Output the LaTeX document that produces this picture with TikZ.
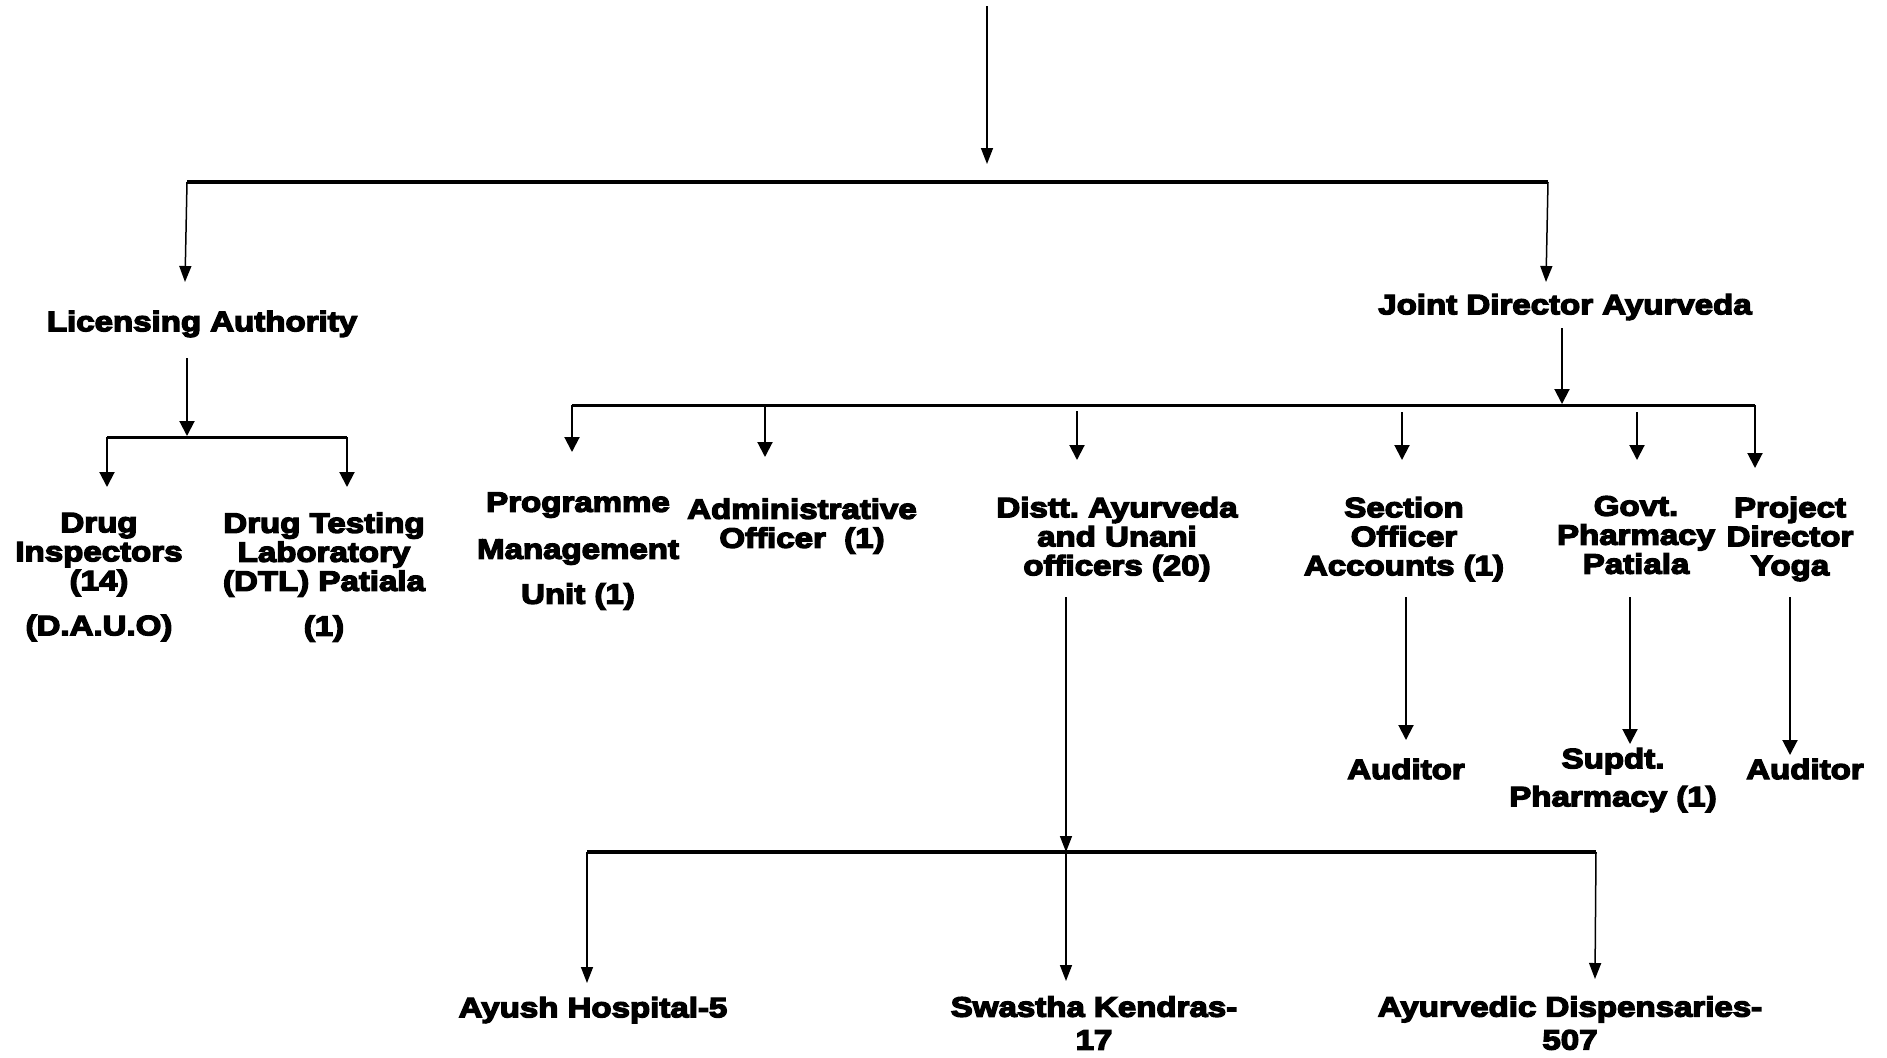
\documentclass[tikz,border=0pt]{standalone}
\usepackage{fontspec}
\newfontfamily\lab{Liberation Sans}[UprightFont={* Bold},FakeStretch=1.18]
\usetikzlibrary{arrows.meta}
\tikzset{
  lbl/.style={font=\lab\frenchspacing\fontsize{14}{14.5}\selectfont, align=center, inner sep=0pt, anchor=center,
    execute at begin node={\special{pdf:literal direct 2 Tr 0.7 w}},
    execute at end node={\special{pdf:literal direct 0 Tr}}},
  thin/.style={line width=0.75pt, -{Triangle[length=8pt,width=6pt]}},
  med/.style={line width=1pt, -{Triangle[length=7.5pt,width=7.5pt]}},
  topbar/.style={line width=2pt},
  midbar/.style={line width=1.5pt},
}
\begin{document}
\begin{tikzpicture}[x=0.5pt,y=-0.5pt]
\useasboundingbox[fill=white] (0,0) rectangle (1887,1057);

% text nodes
\node[lbl] (la) at (202,324) {Licensing Authority};
\node[lbl] (jd) at (1565,307) {Joint Director Ayurveda};
\node[lbl] (di) at (99,577) {Drug\\Inspectors\\(14)\\[8pt](D.A.U.O)};
\node[lbl] (dtl) at (324,577) {Drug Testing\\Laboratory\\(DTL) Patiala\\[8pt](1)};
\node[lbl] (pmu) at (578,551) {Programme\\[9pt]Management\\[8pt]Unit (1)};
\node[lbl] (ao) at (802,526) {Administrative\\Officer\ \ (1)};
\node[lbl] (dau) at (1117,539) {Distt. Ayurveda\\and Unani\\officers (20)};
\node[lbl] (soa) at (1404,539) {Section\\Officer\\Accounts (1)};
\node[lbl] (gpp) at (1636,535) {Govt.\\Pharmacy\\Patiala};
\node[lbl] (pdy) at (1790,539) {Project\\Director\\Yoga};
\node[lbl] (aud1) at (1406,769) {Auditor};
\node[lbl] (sup) at (1613,780) {Supdt.\\[4.5pt]Pharmacy (1)};
\node[lbl] (aud2) at (1805,769) {Auditor};
\node[lbl] (ah) at (593,1010) {Ayush Hospital-5};
\node[lbl] (sk) at (1094,1023) {Swastha Kendras-\\[2pt]17};
\node[lbl] (ad) at (1570,1023) {Ayurvedic Dispensaries-\\[2pt]507};

% coordinates
\coordinate (t0) at (987,6);
\coordinate (t1) at (987,164);
\coordinate (b1l) at (187,182);
\coordinate (b1r) at (1548,182);
\coordinate (lat) at (185,282);
\coordinate (jdt) at (1546,282);
\coordinate (las) at (187,358);
\coordinate (lae) at (187,436);
\coordinate (b2l) at (107,437);
\coordinate (b2r) at (347,437);
\coordinate (dit) at (107,487);
\coordinate (dtlt) at (347,487);
\coordinate (jds) at (1562,328);
\coordinate (jde) at (1562,404);
\coordinate (b3l) at (572,405);
\coordinate (b3r) at (1755,405);
\coordinate (pmut) at (572,452);
\coordinate (aos) at (765,407);
\coordinate (aot) at (765,457);
\coordinate (daus) at (1077,411);
\coordinate (daut) at (1077,460);
\coordinate (soas) at (1402,412);
\coordinate (soat) at (1402,460);
\coordinate (gpps) at (1637,412);
\coordinate (gppt) at (1637,460);
\coordinate (pdyt) at (1755,468);
\coordinate (a1s) at (1406,597);
\coordinate (a1t) at (1406,740);
\coordinate (sps) at (1630,597);
\coordinate (spt) at (1630,744);
\coordinate (a2s) at (1790,597);
\coordinate (a2t) at (1790,755);
\coordinate (ds) at (1066,597);
\coordinate (de) at (1066,852);
\coordinate (b4l) at (587,852);
\coordinate (b4r) at (1596,852);
\coordinate (aht) at (587,983);
\coordinate (skt) at (1066,981);
\coordinate (adt) at (1595,979);

% top level
\draw[thin] (t0) -- (t1);
\draw[topbar] (b1l) -- (b1r);
\draw[thin] (b1l) -- (lat);
\draw[thin] (b1r) -- (jdt);

% licensing branch
\draw[med] (las) -- (lae);
\draw[midbar] (b2l) -- (b2r);
\draw[med] (b2l) -- (dit);
\draw[med] (b2r) -- (dtlt);

% joint director branch
\draw[med] (jds) -- (jde);
\draw[midbar] (b3l) -- (b3r);
\draw[med] (b3l) -- (pmut);
\draw[med] (aos) -- (aot);
\draw[med] (daus) -- (daut);
\draw[med] (soas) -- (soat);
\draw[med] (gpps) -- (gppt);
\draw[med] (b3r) -- (pdyt);

\draw[med] (a1s) -- (a1t);
\draw[med] (sps) -- (spt);
\draw[med] (a2s) -- (a2t);

% district branch
\draw[thin] (ds) -- (de);
\draw[topbar] (b4l) -- (b4r);
\draw[thin] (b4l) -- (aht);
\draw[thin] (de) -- (skt);
\draw[thin] (b4r) -- (adt);
\end{tikzpicture}
\end{document}
